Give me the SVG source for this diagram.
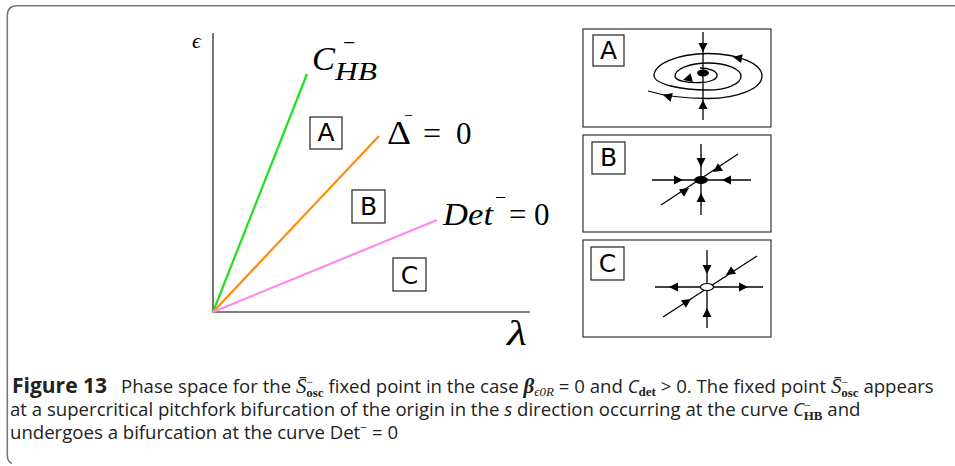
<svg xmlns="http://www.w3.org/2000/svg" xmlns:xlink="http://www.w3.org/1999/xlink" width="955" height="466" viewBox="0 0 955 466">
<style>
.frame{fill:none;stroke:#777;stroke-width:1.6}
.axis{fill:none;stroke:#555;stroke-width:1.6}
.math{font-family:"Liberation Serif","DejaVu Serif",serif;font-style:italic;fill:#000}
.up{font-family:"Liberation Serif","DejaVu Serif",serif;font-style:normal;fill:#000}
.box{fill:#fff;stroke:#222;stroke-width:1.2}
.lbl{font-family:"DejaVu Sans",sans-serif;font-size:25px;fill:#000;text-anchor:middle}
.panel{fill:#fff;stroke:#333;stroke-width:1.2}
.ln{fill:none;stroke:#000;stroke-width:1.3}
.cap{font-family:"Open Sans","Noto Sans",sans-serif;font-size:18.6px;fill:#222}
.capm{font-family:"Liberation Serif","DejaVu Serif",serif}
</style>
<defs>
<path id="ah" d="M0,0 L-9,-4.5 L-9,4.5 Z" fill="#000"/>
</defs>
<path class="frame" d="M955,5.7 H17 Q7.3,5.7 7.3,16 V455 Q7.3,462 12,463.5"/>

<g id="axes">
<path class="axis" d="M213,33 V312 H530"/>
<text class="math" x="192" y="48" font-size="22">ϵ</text>
<text class="math" x="507" y="345" font-size="36" textLength="20" lengthAdjust="spacingAndGlyphs">λ</text>
</g>

<g id="connectors">
<line x1="213" y1="312" x2="307" y2="74" stroke="#1ee01e" stroke-width="2.2"/>
<line x1="213" y1="312" x2="379" y2="136" stroke="#ff8c0a" stroke-width="2.2"/>
<line x1="213" y1="312" x2="437" y2="220" stroke="#ff88ee" stroke-width="2.2"/>
</g>

<g id="label-chb">
<text class="math" x="312" y="70" font-size="33" textLength="23" lengthAdjust="spacingAndGlyphs">C</text>
<text class="math" x="335" y="80" font-size="26" textLength="42" lengthAdjust="spacingAndGlyphs">HB</text>
<text class="up" x="343" y="50" font-size="22">−</text>
</g>
<g id="label-delta">
<text class="up" x="387" y="144" font-size="33" textLength="24" lengthAdjust="spacingAndGlyphs">Δ</text>
<text class="up" x="404" y="121" font-size="16">−</text>
<text class="up" x="423" y="144" font-size="32">=</text>
<text class="up" x="456" y="144" font-size="31">0</text>
</g>
<g id="label-det">
<text class="math" x="443" y="225" font-size="32" textLength="50" lengthAdjust="spacingAndGlyphs">Det</text>
<text class="up" x="495" y="204" font-size="20">−</text>
<text class="up" x="509" y="225" font-size="31">=</text>
<text class="up" x="534" y="225" font-size="31">0</text>
</g>

<g id="region-A">
<rect class="box" x="310" y="117" width="32" height="32"/>
<text class="lbl" x="326" y="141">A</text>
</g>
<g id="region-B">
<rect class="box" x="352" y="190" width="33" height="33"/>
<text class="lbl" x="368.5" y="215">B</text>
</g>
<g id="region-C">
<rect class="box" x="393" y="258" width="33" height="33"/>
<text class="lbl" x="409.5" y="284">C</text>
</g>

<g id="panel-A">
<rect class="panel" x="583" y="29" width="188" height="98"/>
<rect class="box" x="593" y="35" width="31" height="31"/>
<text class="lbl" x="608.5" y="59">A</text>
<path class="ln" d="M648,91 C668,97 690,98.5 708,98.5 A54,22.5 0 0 0 762,76 A54,22.5 0 0 0 708,53.5 A54,22.5 0 0 0 654,76 C655,84 680,90 708,90 A33,13.5 0 0 0 741,76.5 A33,13.5 0 0 0 708,63 A33,13.5 0 0 0 675,76.5 C676,81 688,83 700,82.5 A17,7 0 0 0 717,75 A17,7 0 0 0 700,68"/>
<line class="ln" x1="703" y1="32" x2="703" y2="120"/>
<ellipse cx="703" cy="73" rx="6" ry="3.5" fill="#000"/>
<use xlink:href="#ah" transform="translate(703,52) rotate(90)"/>
<use xlink:href="#ah" transform="translate(703,100) rotate(-90)"/>
<use xlink:href="#ah" transform="translate(733,57) rotate(190)"/>
<use xlink:href="#ah" transform="translate(663,95) rotate(195)"/>
<use xlink:href="#ah" transform="translate(683,80) rotate(165)"/>
</g>

<g id="panel-B">
<rect class="panel" x="583" y="135" width="188" height="97"/>
<rect class="box" x="592" y="142" width="33" height="32"/>
<text class="lbl" x="608.5" y="166">B</text>
<line class="ln" x1="701" y1="144" x2="701" y2="215"/>
<line class="ln" x1="652" y1="180" x2="751" y2="180"/>
<line class="ln" x1="661" y1="205" x2="738" y2="154"/>
<ellipse cx="701" cy="180" rx="7" ry="4" fill="#000"/>
<use xlink:href="#ah" transform="translate(701,167) rotate(90)"/>
<use xlink:href="#ah" transform="translate(701,193) rotate(-90)"/>
<use xlink:href="#ah" transform="translate(683,180) rotate(0)"/>
<use xlink:href="#ah" transform="translate(722,180) rotate(180)"/>
<use xlink:href="#ah" transform="translate(713,172) rotate(146.5)"/>
<use xlink:href="#ah" transform="translate(689,188) rotate(-33.5)"/>
</g>

<g id="panel-C">
<rect class="panel" x="583" y="240" width="188" height="97"/>
<rect class="box" x="591" y="247" width="33" height="33"/>
<text class="lbl" x="607.5" y="272">C</text>
<line class="ln" x1="707" y1="250" x2="707" y2="328"/>
<line class="ln" x1="655" y1="287" x2="763" y2="287"/>
<line class="ln" x1="663" y1="317" x2="757" y2="256"/>
<use xlink:href="#ah" transform="translate(707,274) rotate(90)"/>
<use xlink:href="#ah" transform="translate(707,308) rotate(-90)"/>
<use xlink:href="#ah" transform="translate(669,287) rotate(180)"/>
<use xlink:href="#ah" transform="translate(748,287) rotate(0)"/>
<use xlink:href="#ah" transform="translate(726,275) rotate(147)"/>
<use xlink:href="#ah" transform="translate(691,299) rotate(-33)"/>
<ellipse cx="707" cy="287" rx="6.5" ry="3.5" fill="#fff" stroke="#000" stroke-width="1.2"/>
</g>

<g id="caption">
<text class="cap" x="12" y="393"><tspan font-weight="bold" font-size="21">Figure 13</tspan><tspan x="121">Phase space for the </tspan><tspan class="capm" font-style="italic" font-size="21">S̄</tspan><tspan class="capm" font-size="12" dy="-7">−</tspan><tspan class="capm" font-weight="bold" font-size="13" dx="-7" dy="11">osc</tspan><tspan dy="-4"> fixed point in the case </tspan><tspan class="capm" font-weight="bold" font-style="italic" font-size="21">β</tspan><tspan class="capm" font-style="italic" font-size="13" dy="3">ϵ0R</tspan><tspan dy="-3"> = 0 and </tspan><tspan font-style="italic">C</tspan><tspan class="capm" font-weight="bold" font-size="13" dy="3">det</tspan><tspan dy="-3"> &gt; 0. The fixed point </tspan><tspan class="capm" font-style="italic" font-size="21">S̄</tspan><tspan class="capm" font-size="12" dy="-7">−</tspan><tspan class="capm" font-weight="bold" font-size="13" dx="-7" dy="11">osc</tspan><tspan dy="-4"> appears</tspan></text>
<text class="cap" x="10" y="416">at a supercritical pitchfork bifurcation of the origin in the <tspan font-style="italic">s</tspan> direction occurring at the curve <tspan font-style="italic">C</tspan><tspan class="capm" font-size="12" dy="-7">−</tspan><tspan class="capm" font-weight="bold" font-size="13" dx="-7" dy="11">HB</tspan><tspan dy="-4"> and</tspan></text>
<text class="cap" x="10" y="439">undergoes a bifurcation at the curve Det<tspan font-size="12" dy="-7">−</tspan><tspan dy="7"> = 0</tspan></text>
</g>
</svg>
